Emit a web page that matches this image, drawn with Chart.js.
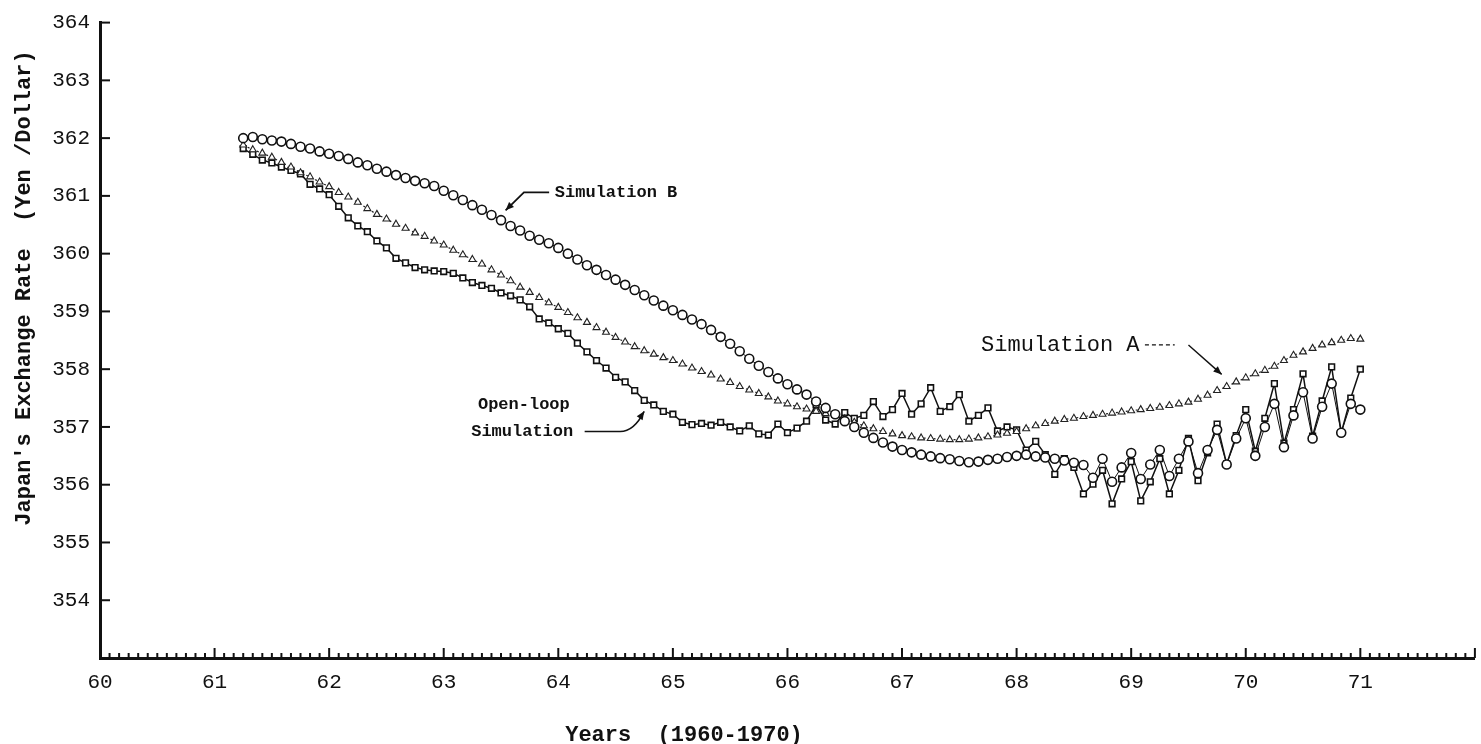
<!DOCTYPE html>
<html>
<head>
<meta charset="utf-8">
<title>Japan's Exchange Rate 1960-1970</title>
<script src="https://cdn.jsdelivr.net/npm/chart.js@4/dist/chart.umd.min.js"></script>
<style>
  html, body { margin: 0; padding: 0; background: #fff; }
  canvas { display: block; }
</style>
</head>
<body>
<canvas id="chart" width="1481" height="744"></canvas>
<script>
// Monthly runs, March 1961 to January 1971 (x = year - 1900)
const firstMonth = 61.25;

const simB = [
  362.00, 362.02, 361.98, 361.96, 361.94, 361.90, 361.85, 361.82, 361.77, 361.73,
  361.69, 361.64, 361.58, 361.53, 361.47, 361.42, 361.36, 361.31, 361.26, 361.22,
  361.17, 361.09, 361.01, 360.93, 360.84, 360.76, 360.67, 360.58, 360.48, 360.40,
  360.31, 360.24, 360.18, 360.10, 360.00, 359.90, 359.80, 359.72, 359.63, 359.55,
  359.46, 359.37, 359.28, 359.19, 359.10, 359.02, 358.94, 358.86, 358.78, 358.68,
  358.56, 358.44, 358.31, 358.18, 358.06, 357.95, 357.84, 357.74, 357.65, 357.56,
  357.44, 357.33, 357.22, 357.10, 357.00, 356.90, 356.81, 356.73, 356.66, 356.60,
  356.56, 356.52, 356.49, 356.46, 356.44, 356.41, 356.39, 356.40, 356.43, 356.45,
  356.48, 356.50, 356.52, 356.49, 356.47, 356.45, 356.42, 356.38, 356.34, 356.12,
  356.45, 356.05, 356.30, 356.55, 356.10, 356.35, 356.60, 356.15, 356.45, 356.75,
  356.20, 356.60, 356.95, 356.35, 356.80, 357.15, 356.50, 357.00, 357.40, 356.65,
  357.20, 357.60, 356.80, 357.35, 357.75, 356.90, 357.40, 357.30
];

const simA = [
  361.88, 361.80, 361.74, 361.67, 361.58, 361.50, 361.40, 361.33, 361.24, 361.16,
  361.06, 360.98, 360.89, 360.78, 360.68, 360.60, 360.51, 360.44, 360.36, 360.30,
  360.22, 360.15, 360.06, 359.98, 359.90, 359.82, 359.72, 359.63, 359.53, 359.42,
  359.33, 359.24, 359.15, 359.07, 358.98, 358.89, 358.81, 358.72, 358.64, 358.55,
  358.47, 358.39, 358.32, 358.26, 358.20, 358.15, 358.09, 358.02, 357.96, 357.90,
  357.83, 357.77, 357.70, 357.64, 357.58, 357.52, 357.45, 357.40, 357.35, 357.31,
  357.27, 357.23, 357.20, 357.14, 357.08, 357.02, 356.97, 356.92, 356.88, 356.85,
  356.83, 356.81, 356.80, 356.79, 356.78, 356.78, 356.79, 356.81, 356.83, 356.86,
  356.89, 356.92, 356.97, 357.02, 357.06, 357.10, 357.13, 357.15, 357.18, 357.20,
  357.22, 357.24, 357.26, 357.28, 357.30, 357.32, 357.34, 357.37, 357.40, 357.43,
  357.48, 357.55, 357.63, 357.70, 357.78, 357.85, 357.92, 357.98, 358.05, 358.15,
  358.24, 358.30, 358.36, 358.42, 358.46, 358.50, 358.53, 358.52
];

const openLoop = [
  361.82, 361.72, 361.62, 361.57, 361.50, 361.44, 361.38, 361.20, 361.12, 361.02,
  360.82, 360.62, 360.48, 360.38, 360.22, 360.10, 359.92, 359.84, 359.76, 359.72,
  359.70, 359.69, 359.66, 359.58, 359.50, 359.45, 359.40, 359.32, 359.27, 359.20,
  359.08, 358.87, 358.80, 358.70, 358.62, 358.45, 358.30, 358.15, 358.02, 357.86,
  357.78, 357.63, 357.46, 357.38, 357.27, 357.22, 357.08, 357.04, 357.06, 357.03,
  357.08, 357.00, 356.93, 357.02, 356.88, 356.86, 357.05, 356.90, 356.98, 357.10,
  357.38, 357.12, 357.05, 357.25, 357.15, 357.20, 357.44, 357.18, 357.30, 357.58,
  357.22, 357.40, 357.68, 357.27, 357.35, 357.56, 357.10, 357.20, 357.33, 356.93,
  357.00, 356.95, 356.60, 356.75, 356.52, 356.18, 356.45, 356.30, 355.84, 356.01,
  356.25, 355.67, 356.10, 356.40, 355.72, 356.05, 356.45, 355.84, 356.25, 356.80,
  356.07, 356.55, 357.05, 356.36, 356.85, 357.30, 356.58, 357.15, 357.75, 356.72,
  357.30, 357.92, 356.84, 357.45, 358.04, 356.90, 357.50, 358.00
];

const yearTicks = [60, 61, 62, 63, 64, 65, 66, 67, 68, 69, 70, 71];
const rateTicks = [354, 355, 356, 357, 358, 359, 360, 361, 362, 363, 364];

const INK = '#111';
const MONO = 'Liberation Mono';

const toPoints = vals => vals.map((v, i) => ({ x: firstMonth + i / 12, y: v }));

// tick marks pointing into the plot, monthly on the time axis
const axisTicks = {
  id: 'axisTicks',
  afterDraw(chart) {
    const { ctx, scales: { x, y } } = chart;
    ctx.save();
    ctx.strokeStyle = INK;
    ctx.lineWidth = 2;
    const base = y.getPixelForValue(353);
    for (let m = 0; m <= 144; m++) {
      const px = x.getPixelForValue(60 + m / 12);
      const len = m % 12 === 0 ? 10 : 5;
      ctx.beginPath();
      ctx.moveTo(px, base);
      ctx.lineTo(px, base - len);
      ctx.stroke();
    }
    const left = x.getPixelForValue(60);
    rateTicks.forEach(v => {
      const py = y.getPixelForValue(v);
      ctx.beginPath();
      ctx.moveTo(left, py);
      ctx.lineTo(left + 10, py);
      ctx.stroke();
    });
    ctx.restore();
  }
};

function arrowHead(ctx, fx, fy, tx, ty) {
  const a = Math.atan2(ty - fy, tx - fx);
  const s = 9;
  ctx.beginPath();
  ctx.moveTo(tx, ty);
  ctx.lineTo(tx - s * Math.cos(a - 0.4), ty - s * Math.sin(a - 0.4));
  ctx.lineTo(tx - s * Math.cos(a + 0.4), ty - s * Math.sin(a + 0.4));
  ctx.closePath();
  ctx.fill();
}

// series labels with pointer arrows, and the axis titles
const labels = {
  id: 'labels',
  afterDatasetsDraw(chart) {
    const { ctx, scales: { x, y } } = chart;
    const X = v => x.getPixelForValue(v);
    const Y = v => y.getPixelForValue(v);
    ctx.save();
    ctx.fillStyle = INK;
    ctx.strokeStyle = INK;
    ctx.lineWidth = 1.8;
    ctx.textBaseline = 'middle';

    // Simulation B
    ctx.font = `bold 17px "${MONO}"`;
    ctx.textAlign = 'left';
    ctx.fillText('Simulation B', X(63.97), Y(361.06));
    ctx.beginPath();
    ctx.moveTo(X(63.92), Y(361.06));
    ctx.lineTo(X(63.70), Y(361.06));
    ctx.lineTo(X(63.54), Y(360.75));
    ctx.stroke();
    arrowHead(ctx, X(63.70), Y(361.06), X(63.54), Y(360.75));

    // Simulation A
    ctx.font = `22px "${MONO}"`;
    ctx.fillText('Simulation A', X(67.69), Y(358.42));
    ctx.lineWidth = 1.4;
    ctx.setLineDash([4, 3]);
    ctx.beginPath();
    ctx.moveTo(X(69.12), Y(358.42));
    ctx.lineTo(X(69.38), Y(358.42));
    ctx.stroke();
    ctx.setLineDash([]);
    ctx.beginPath();
    ctx.moveTo(X(69.50), Y(358.42));
    ctx.lineTo(X(69.79), Y(357.91));
    ctx.stroke();
    arrowHead(ctx, X(69.50), Y(358.42), X(69.79), Y(357.91));

    // Open-loop Simulation
    ctx.font = `bold 17px "${MONO}"`;
    ctx.textAlign = 'right';
    ctx.fillText('Open-loop', X(64.10), Y(357.39));
    ctx.fillText('Simulation', X(64.13), Y(356.92));
    ctx.lineWidth = 1.6;
    ctx.beginPath();
    ctx.moveTo(X(64.23), Y(356.92));
    ctx.lineTo(X(64.54), Y(356.92));
    ctx.quadraticCurveTo(X(64.66), Y(356.92), X(64.75), Y(357.27));
    ctx.stroke();
    arrowHead(ctx, X(64.66), Y(357.0), X(64.75), Y(357.27));

    // axis titles
    ctx.font = `bold 22px "${MONO}"`;
    ctx.textAlign = 'center';
    ctx.fillText('Years  (1960-1970)', 684, 735);
    ctx.translate(24, 288);
    ctx.rotate(-Math.PI / 2);
    ctx.fillText("Japan's Exchange Rate  (Yen /Dollar)", 0, 0);
    ctx.restore();
  }
};

new Chart(document.getElementById('chart'), {
  type: 'line',
  data: {
    datasets: [
      {
        label: 'Simulation B',
        data: toPoints(simB),
        borderColor: INK,
        borderWidth: 1,
        pointStyle: 'circle',
        pointRadius: 4.5,
        pointBorderWidth: 1.6,
        pointBackgroundColor: '#fff',
        pointBorderColor: INK,
        tension: 0
      },
      {
        label: 'Simulation A',
        data: toPoints(simA),
        borderColor: '#222',
        borderWidth: 1.2,
        borderDash: [2, 3],
        pointStyle: 'triangle',
        pointRadius: 4,
        pointBorderWidth: 1.1,
        pointBackgroundColor: '#fff',
        pointBorderColor: '#222',
        tension: 0
      },
      {
        label: 'Open-loop Simulation',
        data: toPoints(openLoop),
        borderColor: INK,
        borderWidth: 1.5,
        pointStyle: 'rect',
        pointRadius: 4,
        pointBorderWidth: 1.6,
        pointBackgroundColor: '#fff',
        pointBorderColor: INK,
        tension: 0
      }
    ]
  },
  options: {
    responsive: false,
    animation: false,
    devicePixelRatio: 1,
    layout: { padding: { top: 19, right: 0, left: 0, bottom: 0 } },
    plugins: { legend: { display: false }, tooltip: { enabled: false } },
    scales: {
      x: {
        type: 'linear',
        min: 60,
        max: 72,
        afterFit(s) { s.height = 86; },
        afterBuildTicks(s) { s.ticks = yearTicks.map(v => ({ value: v })); },
        grid: { display: false, drawTicks: false },
        border: { display: true, color: INK, width: 3 },
        ticks: {
          font: { family: MONO, size: 21 },
          color: INK,
          padding: 12,
          maxRotation: 0,
          autoSkip: false
        }
      },
      y: {
        type: 'linear',
        min: 353,
        max: 364,
        afterFit(s) { s.width = 100; },
        afterBuildTicks(s) { s.ticks = rateTicks.map(v => ({ value: v })); },
        grid: { display: false, drawTicks: false },
        border: { display: true, color: INK, width: 3 },
        ticks: {
          font: { family: MONO, size: 21 },
          color: INK,
          padding: 10
        }
      }
    }
  },
  plugins: [axisTicks, labels]
});
</script>
</body>
</html>
